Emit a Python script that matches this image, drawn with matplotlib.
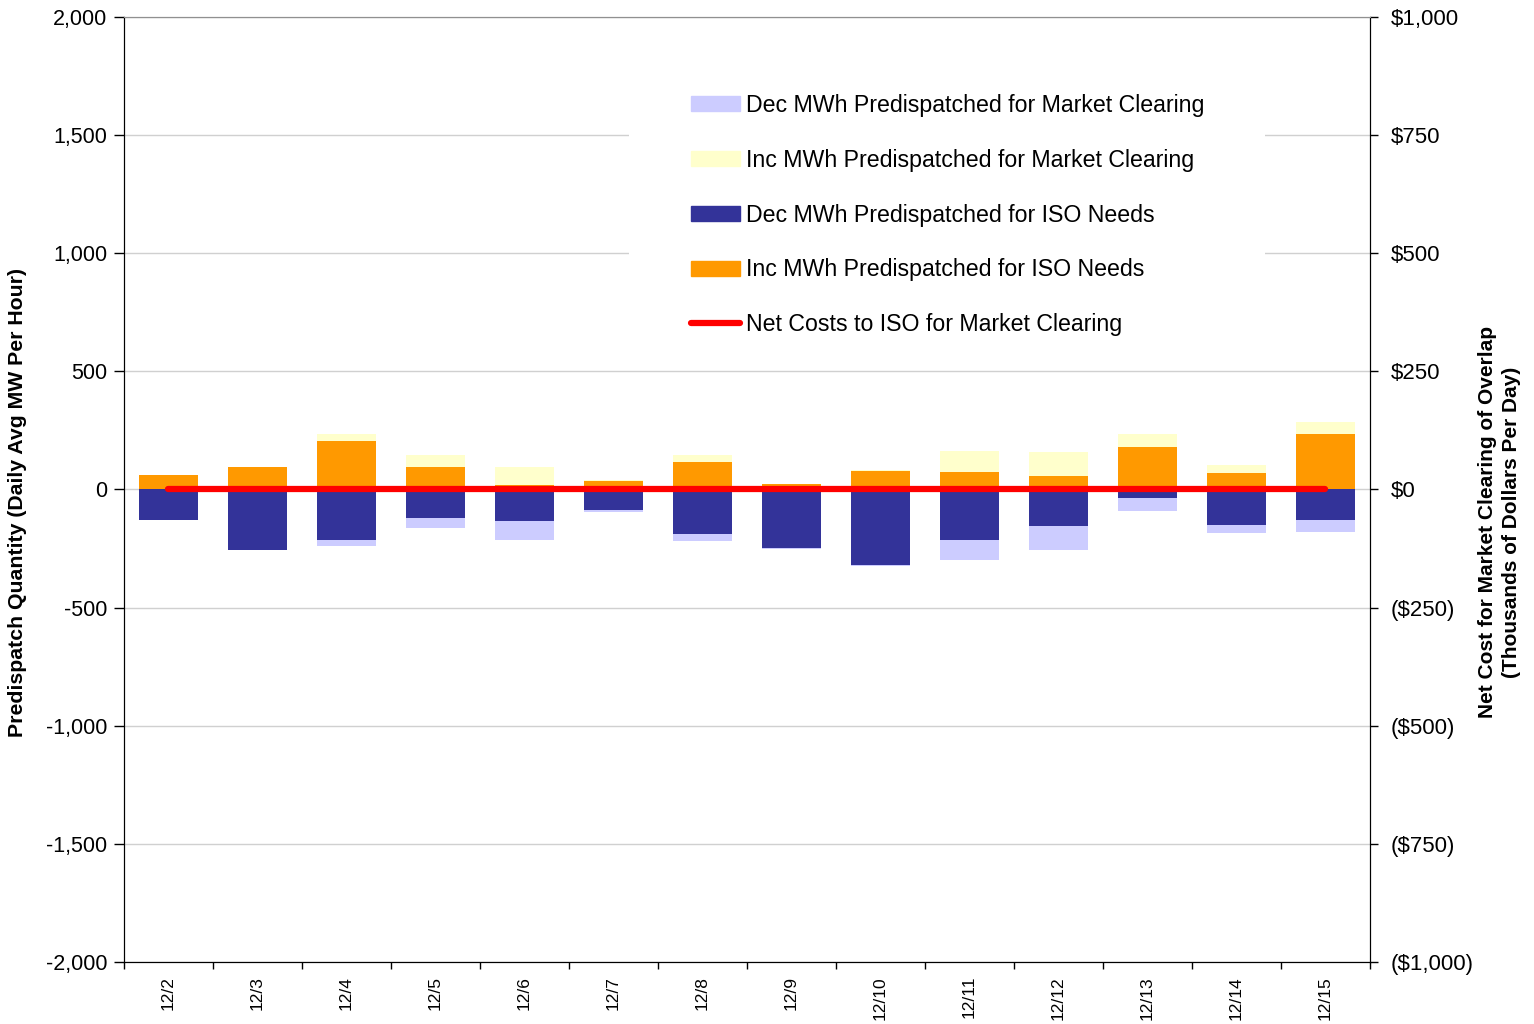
import matplotlib.pyplot as plt
import numpy as np
from matplotlib.patches import Rectangle, Patch
from matplotlib.lines import Line2D
from matplotlib.ticker import FuncFormatter, MultipleLocator

plt.rcParams['font.family'] = ['Liberation Sans', 'DejaVu Sans']

# данные (MW, тыс. $)
dates = ['12/2', '12/3', '12/4', '12/5', '12/6', '12/7', '12/8',
         '12/9', '12/10', '12/11', '12/12', '12/13', '12/14', '12/15']
inc_iso = [63, 97, 207, 97, 17, 34, 118, 25, 80, 76, 59, 178, 68, 234]
inc_mkt = [0, 0, 30, 48, 80, 5, 30, 0, 3, 89, 98, 59, 34, 50]
dec_iso = [-130, -257, -212, -119, -135, -88, -190, -248, -320, -212, -155, -34, -152, -131]
dec_mkt = [0, 0, -28, -45, -80, -9, -29, -5, -5, -87, -102, -59, -34, -51]
net_cost = [0, 0, 0, 0, 0, 0, 0, 0, 0, 0, 0, 0, 0, 0]

c_dec_mkt = '#CCCCFF'
c_inc_mkt = '#FFFFCC'
c_dec_iso = '#333399'
c_inc_iso = '#FF9900'

fig = plt.figure(figsize=(15.34, 10.24), dpi=100)
ax = fig.add_axes([0.08083, 0.06055, 0.81225, 0.92285])
ax2 = ax.twinx()

x = np.arange(len(dates))
w = 0.67

ax.bar(x, inc_iso, w, color=c_inc_iso, zorder=2)
ax.bar(x, inc_mkt, w, bottom=inc_iso, color=c_inc_mkt, zorder=2)
ax.bar(x, dec_iso, w, color=c_dec_iso, zorder=2)
ax.bar(x, dec_mkt, w, bottom=dec_iso, color=c_dec_mkt, zorder=2)

ax2.plot(x, net_cost, color='#FF0000', lw=4.5, solid_capstyle='round', zorder=3)

# оси
ax.set_xlim(-0.5, len(dates) - 0.5)
ax.set_ylim(-2000, 2000)
ax.yaxis.set_major_locator(MultipleLocator(500))
ax.yaxis.set_major_formatter(FuncFormatter(lambda v, p: f'{v:,.0f}'))
ax2.set_ylim(-1000, 1000)
ax2.yaxis.set_major_locator(MultipleLocator(250))
ax2.yaxis.set_major_formatter(FuncFormatter(
    lambda v, p: f'${v:,.0f}' if v >= 0 else f'(${-v:,.0f})'))

ax.set_xticks(np.arange(len(dates) + 1) - 0.5)
ax.set_xticklabels([])
ax.set_xticks(x, minor=True)
ax.set_xticklabels(dates, minor=True, rotation=90, fontsize=12.5)
ax.tick_params(axis='x', which='major', direction='out', length=5, width=1)
ax.tick_params(axis='x', which='minor', length=0, pad=10)
ax.tick_params(axis='y', direction='out', length=7, width=1, labelsize=15.5, pad=5)
ax2.tick_params(axis='y', direction='out', length=6, width=1, labelsize=16, pad=9)

ax.grid(axis='y', color='#d0d0d0', lw=1)
ax.set_axisbelow(True)
for a in (ax, ax2):
    a.spines['top'].set_color('#909090')

# белый фон под легендой
ax.add_patch(Rectangle((0.4053, 0.653), 0.5104, 0.30, transform=ax.transAxes,
                       facecolor='white', edgecolor='none', zorder=1))

handles = [Patch(color=c_dec_mkt), Patch(color=c_inc_mkt), Patch(color=c_dec_iso),
           Patch(color=c_inc_iso), Line2D([], [], color='#FF0000', lw=4.5, solid_capstyle='round')]
labels = ['Dec MWh Predispatched for Market Clearing', 'Inc MWh Predispatched for Market Clearing',
          'Dec MWh Predispatched for ISO Needs', 'Inc MWh Predispatched for ISO Needs',
          'Net Costs to ISO for Market Clearing']
ax2.legend(handles, labels, loc='upper left', bbox_to_anchor=(0.455, 0.9185), frameon=False,
           fontsize=16.7, borderpad=0, borderaxespad=0, labelspacing=1.37,
           handlelength=2.12, handleheight=0.6, handletextpad=0.26)

fig.text(0.0117, 0.509, 'Predispatch Quantity (Daily Avg MW Per Hour)', rotation=90,
         ha='center', va='center', fontsize=15.3, fontweight='bold')
fig.text(0.9775, 0.49, 'Net Cost for Market Clearing of Overlap\n(Thousands of Dollars Per Day)',
         rotation=90, ha='center', va='center', ma='center', fontsize=15,
         fontweight='bold', linespacing=1.35)

fig.savefig('out.png', dpi=100)
